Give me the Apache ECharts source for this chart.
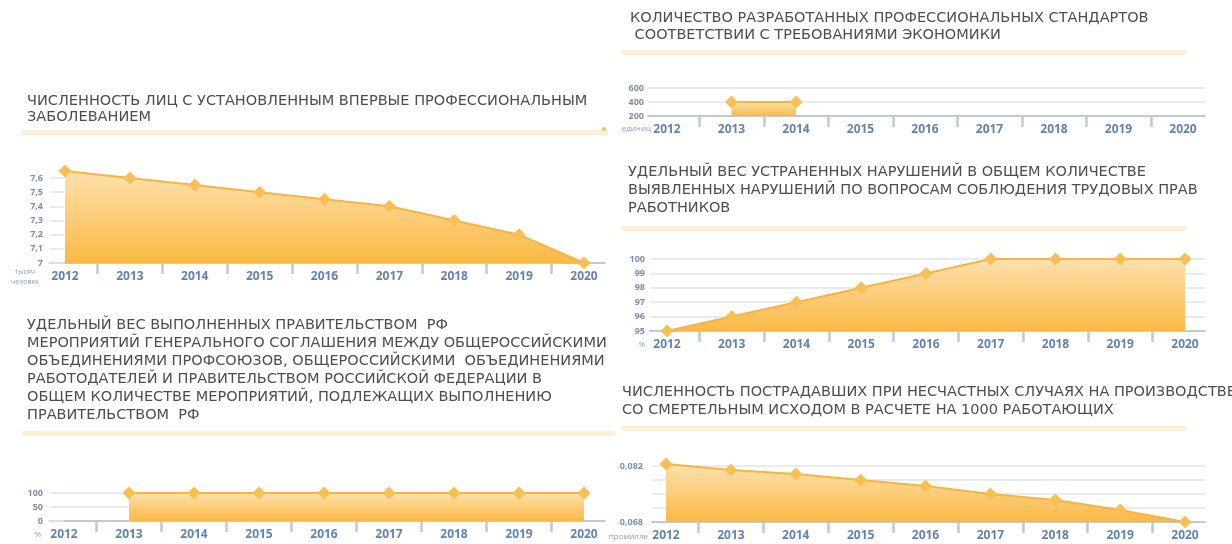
<!DOCTYPE html>
<html><head><meta charset="utf-8">
<script src="https://cdn.jsdelivr.net/npm/echarts@6/dist/echarts.min.js"></script>
<style>html,body{margin:0;padding:0;background:#fff}#c{width:1232px;height:544px}</style>
</head><body><div id="c"></div>
<script>
// ---------- DATA ----------
const years = ['2012','2013','2014','2015','2016','2017','2018','2019','2020'];

const diseases      = [7.65, 7.6, 7.55, 7.5, 7.45, 7.4, 7.3, 7.2, 7.0];      // тысяч человек
const diseasesRange = [7, 7.6, 0.1];

const standards      = [null, 400, 400, null, null, null, null, null, null]; // единиц
const standardsRange = [200, 600, 200];

const violations      = [95, 96, 97, 98, 99, 100, 100, 100, 100];           // %
const violationsRange = [95, 100, 1];

const measures      = [null, 100, 100, 100, 100, 100, 100, 100, 100];       // %
const measuresRange = [0, 100, 50];

const fatal      = [0.0825, 0.081, 0.080, 0.0785, 0.077, 0.075, 0.0735, 0.071, 0.068]; // промилле
const fatalRange = [0.068, 0.082, 0.0035];
const fatalLabels = [0.068, 0.082];

const titles = [
  'ЧИСЛЕННОСТЬ ЛИЦ С УСТАНОВЛЕННЫМ ВПЕРВЫЕ ПРОФЕССИОНАЛЬНЫМ\nЗАБОЛЕВАНИЕМ',
  'КОЛИЧЕСТВО РАЗРАБОТАННЫХ ПРОФЕССИОНАЛЬНЫХ СТАНДАРТОВ\n СООТВЕТСТВИИ С ТРЕБОВАНИЯМИ ЭКОНОМИКИ',
  'УДЕЛЬНЫЙ ВЕС УСТРАНЕННЫХ НАРУШЕНИЙ В ОБЩЕМ КОЛИЧЕСТВЕ\nВЫЯВЛЕННЫХ НАРУШЕНИЙ ПО ВОПРОСАМ СОБЛЮДЕНИЯ ТРУДОВЫХ ПРАВ\nРАБОТНИКОВ',
  'УДЕЛЬНЫЙ ВЕС ВЫПОЛНЕННЫХ ПРАВИТЕЛЬСТВОМ  РФ\nМЕРОПРИЯТИЙ ГЕНЕРАЛЬНОГО СОГЛАШЕНИЯ МЕЖДУ ОБЩЕРОССИЙСКИМИ\nОБЪЕДИНЕНИЯМИ ПРОФСОЮЗОВ, ОБЩЕРОССИЙСКИМИ  ОБЪЕДИНЕНИЯМИ\nРАБОТОДАТЕЛЕЙ И ПРАВИТЕЛЬСТВОМ РОССИЙСКОЙ ФЕДЕРАЦИИ В\nОБЩЕМ КОЛИЧЕСТВЕ МЕРОПРИЯТИЙ, ПОДЛЕЖАЩИХ ВЫПОЛНЕНИЮ\nПРАВИТЕЛЬСТВОМ  РФ',
  'ЧИСЛЕННОСТЬ ПОСТРАДАВШИХ ПРИ НЕСЧАСТНЫХ СЛУЧАЯХ НА ПРОИЗВОДСТВЕ\nСО СМЕРТЕЛЬНЫМ ИСХОДОМ В РАСЧЕТЕ НА 1000 РАБОТАЮЩИХ'
];
const units = ['тысяч\nчеловек', 'единиц', '%', '%', 'промилле'];

// ---------- STYLE ----------
const AXIS = '#bccbd8', GRIDC = '#dfe6ed', YLBL = '#7890b0', XLBL = '#6383ad';
const LINE = '#f7b443', SYM = '#f8bf55';
const FONT = 'Open Sans';
const TFONT = 'DejaVu Sans';

const grids = [], xAxes = [], yAxes = [], series = [];

function comma(v, d) { return (d == null ? String(+v.toFixed(6)) : v.toFixed(d)).replace('.', ','); }

function addChart(c) {
  const [min, max, step] = c.range;
  const h = c.bottom - c.top;
  const gw = grids.length;
  grids.push({left: c.wideLeft, top: c.top, width: c.wideRight - c.wideLeft, height: h});
  const gn = grids.length;
  grids.push({left: c.dataLeft, top: c.top, width: c.dataRight - c.dataLeft, height: h});

  // wide grid: axis line + y labels + gridlines
  xAxes.push({gridIndex: gw, type: 'value', min: 0, max: 1, position: 'bottom',
    axisLine: {show: true, lineStyle: {color: AXIS, width: 2}},
    axisTick: {show: false}, axisLabel: {show: false}, splitLine: {show: false}});
  yAxes.push({gridIndex: gw, type: 'value', min, max, interval: step, position: 'left',
    axisLine: {show: false},
    axisTick: {show: !!c.stub, inside: true, length: c.stub || 0, lineStyle: {color: GRIDC, width: 1.5}},
    splitLine: {show: !!c.fullGrid, lineStyle: {color: GRIDC, width: 1.5}},
    axisLabel: {margin: c.labelMargin, fontSize: 9, fontWeight: 'bold', color: YLBL, fontFamily: FONT,
      formatter: c.fmt}});

  // data grid: year labels, mid ticks, series
  const xN = xAxes.length;
  xAxes.push({gridIndex: gn, type: 'category', data: years, boundaryGap: false, position: 'bottom',
    axisLine: {show: false}, axisTick: {show: false},
    axisLabel: {interval: 0, margin: 8, fontSize: 12, fontWeight: 'bold', color: XLBL, fontFamily: FONT}});
  xAxes.push({gridIndex: gn, type: 'category', data: years.slice(1).map(() => ''), boundaryGap: true, position: 'bottom',
    axisLine: {show: false},
    axisTick: {show: true, interval: 0, alignWithLabel: true, length: 11, lineStyle: {color: AXIS, width: 2.5}},
    axisLabel: {show: false}});
  const yN = yAxes.length;
  yAxes.push({gridIndex: gn, type: 'value', min, max, interval: step,
    axisLine: {show: false}, axisTick: {show: false}, axisLabel: {show: false},
    splitLine: {show: !!c.narrowGrid, lineStyle: {color: GRIDC, width: 1.5}}});

  series.push({type: 'line', xAxisIndex: xN, yAxisIndex: yN, data: c.data, clip: false,
    symbol: 'diamond', symbolSize: 13, showAllSymbol: true,
    lineStyle: {color: LINE, width: 2},
    itemStyle: {color: SYM},
    areaStyle: {opacity: 1, color: new echarts.graphic.LinearGradient(0, 0, 0, 1, [
      {offset: 0, color: '#fde1ad'}, {offset: 1, color: '#fbb845'}])},
    silent: true, animation: false, z: 3});
}

addChart({data: diseases, range: diseasesRange, top: 178, bottom: 263,
  wideLeft: 50, wideRight: 605, dataLeft: 65, dataRight: 584, labelMargin: 7, stub: 14,
  fmt: v => comma(v)});
addChart({data: standards, range: standardsRange, top: 88, bottom: 116,
  wideLeft: 648, wideRight: 1205, dataLeft: 667, dataRight: 1183, labelMargin: 4, fullGrid: true,
  fmt: v => String(v)});
addChart({data: violations, range: violationsRange, top: 259, bottom: 331,
  wideLeft: 650, wideRight: 1205, dataLeft: 667, dataRight: 1185, labelMargin: 5, fullGrid: true,
  fmt: v => String(v)});
addChart({data: measures, range: measuresRange, top: 493, bottom: 521,
  wideLeft: 50, wideRight: 605, dataLeft: 64, dataRight: 584, labelMargin: 7, stub: 14, narrowGrid: true,
  fmt: v => String(v)});
addChart({data: fatal, range: fatalRange, top: 466, bottom: 522,
  wideLeft: 652, wideRight: 1205, dataLeft: 666, dataRight: 1185, labelMargin: 9, fullGrid: true,
  fmt: v => fatalLabels.some(l => Math.abs(l - v) < 1e-6) ? comma(v, 3) : ''});

const titlePos = [[27, 93, 16], [630, 10, 17], [628, 163, 18], [27, 316, 18], [622, 383, 18]];
const title = titles.map((t, i) => ({text: t, left: titlePos[i][0], top: titlePos[i][1], padding: 0,
  textStyle: {fontSize: 14.5, fontWeight: 'normal', color: '#4e4e4e', fontFamily: TFONT, lineHeight: titlePos[i][2]}}));

const bars = [[22, 130, 586], [622, 50, 564], [622, 226, 564], [22, 431, 593], [622, 426, 564]];
const unitPos = [[25, 277, 'center'], [651, 129, 'right'], [645, 345, 'right'], [41, 535, 'right'], [648, 537, 'right']];
const graphic = [];
bars.forEach(b => graphic.push({type: 'rect', shape: {x: b[0], y: b[1], width: b[2], height: 5},
  style: {fill: '#fdefd6'}, silent: true}));
units.forEach((u, i) => graphic.push({type: 'text', x: unitPos[i][0], y: unitPos[i][1],
  style: {text: u, textAlign: unitPos[i][2], textVerticalAlign: 'middle', fill: '#8ca4c2',
    font: (i === 0 ? '7px ' : '8px ') + FONT, lineHeight: 10}, silent: true}));
graphic.push({type: 'circle', shape: {cx: 604, cy: 129, r: 2}, style: {fill: '#f8c060'}, silent: true});

const chart = echarts.init(document.getElementById('c'), null, {renderer: 'canvas'});
chart.setOption({
  animation: false,
  backgroundColor: '#fff',
  title, grid: grids, xAxis: xAxes, yAxis: yAxes, series, graphic
});
</script></body></html>
